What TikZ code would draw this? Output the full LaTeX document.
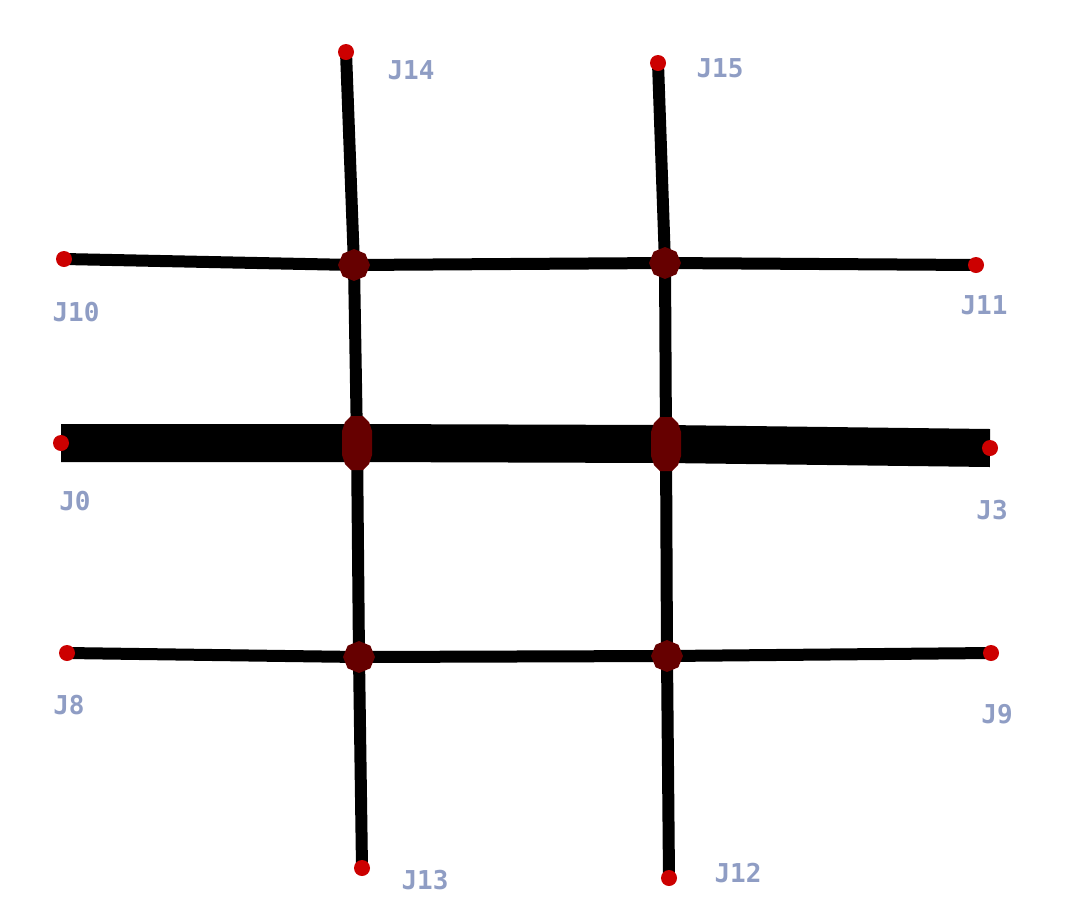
\documentclass[tikz,border=0pt]{standalone}
\usepackage{fontspec}
\newfontfamily\labfont{DejaVu Sans Mono}[BoldFont={DejaVu Sans Mono Bold}]
\usetikzlibrary{shapes.geometric}
\definecolor{labc}{RGB}{143,157,196}
\definecolor{dotc}{RGB}{204,0,0}
\definecolor{junc}{RGB}{102,0,0}
\tikzset{
  pipe/.style={line width=12pt, black},
  mainpipe/.style={line width=38pt, black},
  term/.style={circle, fill=dotc, inner sep=0pt, minimum size=16pt},
  hub/.style={regular polygon, regular polygon sides=8, shape border rotate=22.5, fill=junc, inner sep=0pt, minimum size=32pt},
  bighub/.style={fill=junc},
  lab/.style={text=labc, font=\labfont\bfseries\fontsize{26pt}{28pt}\selectfont, inner sep=0pt}
}
\begin{document}
\begin{tikzpicture}[x=1pt,y=-1pt]
\useasboundingbox (0,0) rectangle (1087,906);
% coordinates
\coordinate (J14) at (346,52);
\coordinate (J15) at (658,63);
\coordinate (J10) at (64,259);
\coordinate (J11) at (976,265);
\coordinate (J0) at (61,443);
\coordinate (J3) at (990,448);
\coordinate (J8) at (67,653);
\coordinate (J9) at (991,653);
\coordinate (J13) at (362,868);
\coordinate (J12) at (669,878);
\coordinate (A) at (354,265);
\coordinate (B) at (665,263);
\coordinate (C) at (357,443);
\coordinate (D) at (666,444);
\coordinate (E) at (359,657);
\coordinate (F) at (667,656);
% main thick pipe
\draw[mainpipe] (J0) -- (C) -- (D) -- (J3);
% thin pipes
\draw[pipe] (J10) -- (A) -- (B) -- (J11);
\draw[pipe] (J8) -- (E) -- (F) -- (J9);
\draw[pipe] (J14) -- (A) -- (C) -- (E) -- (J13);
\draw[pipe] (J15) -- (B) -- (D) -- (F) -- (J12);
% hubs
\node[hub] (hA) at (A) {};
\node[hub] (hB) at (B) {};
\node[hub] (hE) at (E) {};
\node[hub] (hF) at (F) {};
\foreach \h in {C,D}
  \fill[bighub, shift={(\h)}] (-6,-27) -- (6,-27) -- (12,-21) -- (15,-12) -- (15,12) -- (12,21) -- (6,27) -- (-6,27) -- (-12,21) -- (-15,12) -- (-15,-12) -- (-12,-21) -- cycle;
% terminals
\foreach \n in {J14,J15,J10,J11,J0,J3,J8,J9,J13,J12}
  \node[term] (t\n) at (\n) {};
% labels
\node[lab] (l14) at (411,70) {J14};
\node[lab] (l15) at (720,68) {J15};
\node[lab] (l10) at (76,312) {J10};
\node[lab] (l11) at (984,305) {J11};
\node[lab] (l0) at (75,501) {J0};
\node[lab] (l3) at (992,510) {J3};
\node[lab] (l8) at (69,705) {J8};
\node[lab] (l9) at (997,714) {J9};
\node[lab] (l13) at (425,880) {J13};
\node[lab] (l12) at (738,873) {J12};
\end{tikzpicture}
\end{document}
